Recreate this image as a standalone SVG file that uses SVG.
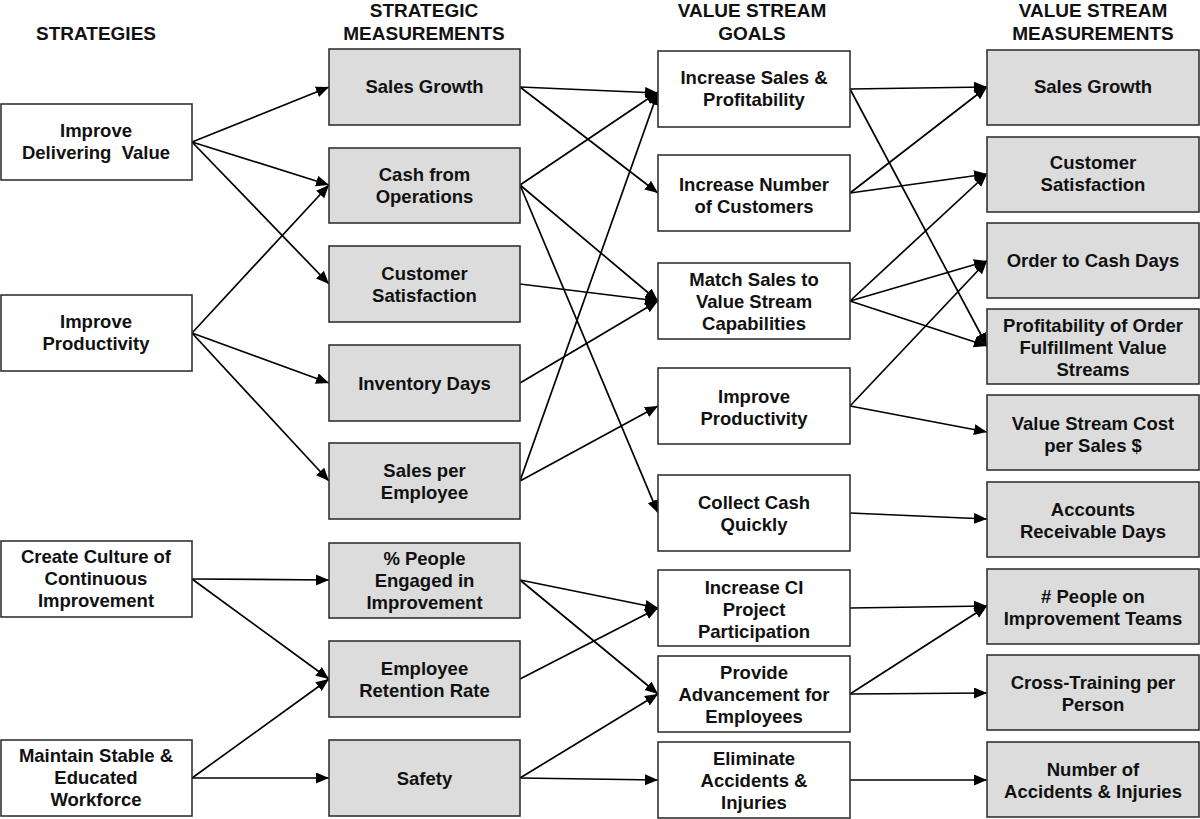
<svg xmlns="http://www.w3.org/2000/svg" width="1200" height="819" viewBox="0 0 1200 819">
<style>
text{font-family:"Liberation Sans",Arial,sans-serif;font-weight:bold;font-size:18.5px;fill:#111;text-anchor:middle}
.h{font-size:19px}
.w{fill:#fff;stroke:#333;stroke-width:1.6}
.g{fill:#dcdcdc;stroke:#333;stroke-width:1.6}
.c line{stroke:#000;stroke-width:1.7;marker-end:url(#a)}
</style>
<defs>
<marker id="a" markerUnits="userSpaceOnUse" markerWidth="14" markerHeight="12" refX="13" refY="5.5" orient="auto">
<path d="M0,0 L13,5.5 L0,11 z" fill="#000"/>
</marker>
</defs>
<g id="headers">
<text class="h" x="96" y="40">STRATEGIES</text>
<text class="h" x="424" y="17">STRATEGIC</text>
<text class="h" x="424" y="40">MEASUREMENTS</text>
<text class="h" x="752" y="17">VALUE STREAM</text>
<text class="h" x="752" y="40">GOALS</text>
<text class="h" x="1093" y="17">VALUE STREAM</text>
<text class="h" x="1093" y="40">MEASUREMENTS</text>
</g>
<g class="c" id="connectors">
<line x1="192" y1="142" x2="329" y2="87"/>
<line x1="192" y1="142" x2="329" y2="185"/>
<line x1="192" y1="142" x2="329" y2="284"/>
<line x1="192" y1="333" x2="329" y2="185"/>
<line x1="192" y1="333" x2="329" y2="383"/>
<line x1="192" y1="333" x2="329" y2="481"/>
<line x1="192" y1="579" x2="329" y2="580"/>
<line x1="192" y1="579" x2="329" y2="679"/>
<line x1="192" y1="778" x2="329" y2="679"/>
<line x1="192" y1="778" x2="329" y2="778"/>
<line x1="520" y1="87" x2="658" y2="93"/>
<line x1="520" y1="87" x2="658" y2="193"/>
<line x1="520" y1="185" x2="658" y2="92"/>
<line x1="520" y1="185" x2="658" y2="301"/>
<line x1="520" y1="185" x2="658" y2="513"/>
<line x1="520" y1="284" x2="658" y2="301"/>
<line x1="520" y1="383" x2="658" y2="301"/>
<line x1="520" y1="481" x2="658" y2="92"/>
<line x1="520" y1="481" x2="658" y2="406"/>
<line x1="520" y1="580" x2="658" y2="608"/>
<line x1="520" y1="580" x2="658" y2="694"/>
<line x1="520" y1="679" x2="658" y2="608"/>
<line x1="520" y1="778" x2="658" y2="694"/>
<line x1="520" y1="778" x2="658" y2="780"/>
<line x1="850" y1="89" x2="987" y2="87"/>
<line x1="850" y1="89" x2="987" y2="346"/>
<line x1="850" y1="193" x2="987" y2="87"/>
<line x1="850" y1="193" x2="987" y2="174"/>
<line x1="850" y1="301" x2="987" y2="174"/>
<line x1="850" y1="301" x2="987" y2="261"/>
<line x1="850" y1="301" x2="987" y2="346"/>
<line x1="850" y1="406" x2="987" y2="261"/>
<line x1="850" y1="406" x2="987" y2="432"/>
<line x1="850" y1="513" x2="987" y2="519"/>
<line x1="850" y1="608" x2="987" y2="606"/>
<line x1="850" y1="694" x2="987" y2="606"/>
<line x1="850" y1="694" x2="987" y2="693"/>
<line x1="850" y1="780" x2="987" y2="780"/>
</g>
<g id="s1"><rect class="w" x="1" y="104" width="191" height="76"/><text x="96" y="137">Improve</text><text x="96" y="159" style="white-space:pre">Delivering  Value</text></g>
<g id="s2"><rect class="w" x="1" y="295" width="191" height="76"/><text x="96" y="328">Improve</text><text x="96" y="350">Productivity</text></g>
<g id="s3"><rect class="w" x="1" y="541" width="191" height="76"/><text x="96" y="563">Create Culture of</text><text x="96" y="585">Continuous</text><text x="96" y="607">Improvement</text></g>
<g id="s4"><rect class="w" x="1" y="740" width="191" height="76"/><text x="96" y="762">Maintain Stable &amp;</text><text x="96" y="784">Educated</text><text x="96" y="806">Workforce</text></g>

<g id="m1"><rect class="g" x="329" y="49" width="191" height="76"/><text x="424.5" y="93">Sales Growth</text></g>
<g id="m2"><rect class="g" x="329" y="148" width="191" height="75"/><text x="424.5" y="181">Cash from</text><text x="424.5" y="203">Operations</text></g>
<g id="m3"><rect class="g" x="329" y="246" width="191" height="76"/><text x="424.5" y="280">Customer</text><text x="424.5" y="302">Satisfaction</text></g>
<g id="m4"><rect class="g" x="329" y="345" width="191" height="76"/><text x="424.5" y="390">Inventory Days</text></g>
<g id="m5"><rect class="g" x="329" y="443" width="191" height="76"/><text x="424.5" y="477">Sales per</text><text x="424.5" y="499">Employee</text></g>
<g id="m6"><rect class="g" x="329" y="543" width="191" height="75"/><text x="424.5" y="565">% People</text><text x="424.5" y="587">Engaged in</text><text x="424.5" y="609">Improvement</text></g>
<g id="m7"><rect class="g" x="329" y="641" width="191" height="76"/><text x="424.5" y="675">Employee</text><text x="424.5" y="697">Retention Rate</text></g>
<g id="m8"><rect class="g" x="329" y="740" width="191" height="76"/><text x="424.5" y="785">Safety</text></g>

<g id="v1"><rect class="w" x="658" y="51" width="192" height="76"/><text x="754" y="84">Increase Sales &amp;</text><text x="754" y="106">Profitability</text></g>
<g id="v2"><rect class="w" x="658" y="155" width="192" height="76"/><text x="754" y="191">Increase Number</text><text x="754" y="213">of Customers</text></g>
<g id="v3"><rect class="w" x="658" y="263" width="192" height="76"/><text x="754" y="286">Match Sales to</text><text x="754" y="308">Value Stream</text><text x="754" y="330">Capabilities</text></g>
<g id="v4"><rect class="w" x="658" y="368" width="192" height="76"/><text x="754" y="403">Improve</text><text x="754" y="425">Productivity</text></g>
<g id="v5"><rect class="w" x="658" y="475" width="192" height="76"/><text x="754" y="509">Collect Cash</text><text x="754" y="531">Quickly</text></g>
<g id="v6"><rect class="w" x="658" y="570" width="192" height="76"/><text x="754" y="594">Increase CI</text><text x="754" y="616">Project</text><text x="754" y="638">Participation</text></g>
<g id="v7"><rect class="w" x="658" y="656" width="192" height="76"/><text x="754" y="679">Provide</text><text x="754" y="701">Advancement for</text><text x="754" y="723">Employees</text></g>
<g id="v8"><rect class="w" x="658" y="742" width="192" height="76"/><text x="754" y="765">Eliminate</text><text x="754" y="787">Accidents &amp;</text><text x="754" y="809">Injuries</text></g>

<g id="r1"><rect class="g" x="987" y="50" width="212" height="75"/><text x="1093" y="93">Sales Growth</text></g>
<g id="r2"><rect class="g" x="987" y="137" width="212" height="75"/><text x="1093" y="169">Customer</text><text x="1093" y="191">Satisfaction</text></g>
<g id="r3"><rect class="g" x="987" y="223" width="212" height="75"/><text x="1093" y="267">Order to Cash Days</text></g>
<g id="r4"><rect class="g" x="987" y="309" width="212" height="75"/><text x="1093" y="332">Profitability of Order</text><text x="1093" y="354">Fulfillment Value</text><text x="1093" y="376">Streams</text></g>
<g id="r5"><rect class="g" x="987" y="395" width="212" height="75"/><text x="1093" y="430">Value Stream Cost</text><text x="1093" y="452">per Sales $</text></g>
<g id="r6"><rect class="g" x="987" y="482" width="212" height="75"/><text x="1093" y="516">Accounts</text><text x="1093" y="538">Receivable Days</text></g>
<g id="r7"><rect class="g" x="987" y="569" width="212" height="75"/><text x="1093" y="603"># People on</text><text x="1093" y="625">Improvement Teams</text></g>
<g id="r8"><rect class="g" x="987" y="655" width="212" height="75"/><text x="1093" y="689">Cross-Training per</text><text x="1093" y="711">Person</text></g>
<g id="r9"><rect class="g" x="987" y="742" width="212" height="75"/><text x="1093" y="776">Number of</text><text x="1093" y="798">Accidents &amp; Injuries</text></g>
</svg>
